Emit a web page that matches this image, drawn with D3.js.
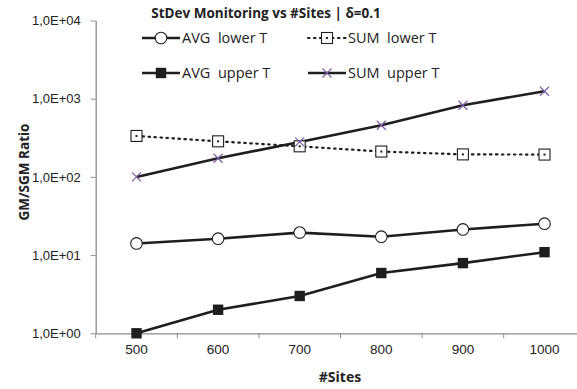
<!DOCTYPE html>
<html>
<head>
<meta charset="utf-8">
<script src="https://cdn.jsdelivr.net/npm/d3@7"></script>
<style>
    html, body { margin: 0; padding: 0; background: #fff; }
    svg { display: block; font-family: "Open Sans", "Liberation Sans", sans-serif; }
</style>
</head>
<body>
<svg id="chart" width="577" height="389"></svg>
<script>
    'use strict';

    var sites = ['500', '600', '700', '800', '900', '1000'];
    var avgLower = [14.1, 16.2, 19.4, 17.2, 21.3, 25.2];
    var sumLower = [334, 285, 246, 211, 194, 193];
    var avgUpper = [1, 2, 3, 5.9, 7.9, 10.9];
    var sumUpper = [100, 173, 280, 457, 824, 1245];
    var yTicks = [1, 10, 100, 1000, 10000];
    var yTickLabels = ['1,0E+00', '1,0E+01', '1,0E+02', '1,0E+03', '1,0E+04'];

    var LINE_COLOR = '#1e1e1e';
    var AXIS_COLOR = '#8c8c8c';
    var CROSS_COLOR = '#7b5ea7';

    var series = [
        { name: 'AVG  lower T', values: avgLower, marker: 'circle', dash: null },
        { name: 'SUM  lower T', values: sumLower, marker: 'openSquare', dash: '1.5,4.5' },
        { name: 'AVG  upper T', values: avgUpper, marker: 'square', dash: null },
        { name: 'SUM  upper T', values: sumUpper, marker: 'cross', dash: null }
    ];

    var svg = d3.select('#chart');
    var left = 95.7;
    var bottom = 333.3;

    var x = d3.scaleBand().domain(sites).range([left, left + 6 * 81.6]);
    var y = d3.scaleLog().domain([1, 10000]).range([bottom, 20.5]);

    function cx(i) {
        return x(sites[i]) + x.bandwidth() / 2;
    }

    function drawMarker(g, type, px, py) {
        if (type === 'circle') {
            g.append('circle').attr('cx', px).attr('cy', py).attr('r', 5.8)
                .attr('fill', '#fff').attr('stroke', LINE_COLOR).attr('stroke-width', 1.1);
        } else if (type === 'openSquare') {
            g.append('rect').attr('x', px - 5.5).attr('y', py - 5.5).attr('width', 11).attr('height', 11)
                .attr('fill', '#fff').attr('stroke', LINE_COLOR).attr('stroke-width', 1.1);
            g.append('rect').attr('x', px - 1).attr('y', py - 1).attr('width', 2).attr('height', 2)
                .attr('fill', LINE_COLOR);
        } else if (type === 'square') {
            g.append('rect').attr('x', px - 5.2).attr('y', py - 5.2).attr('width', 10.4).attr('height', 10.4)
                .attr('fill', LINE_COLOR);
        } else if (type === 'cross') {
            g.append('path')
                .attr('d', 'M' + (px - 4.5) + ',' + (py - 4.5) + 'L' + (px + 4.5) + ',' + (py + 4.5) +
                    'M' + (px - 4.5) + ',' + (py + 4.5) + 'L' + (px + 4.5) + ',' + (py - 4.5))
                .attr('stroke', CROSS_COLOR).attr('stroke-width', 1.2).attr('fill', 'none');
        }
    }

    // axes
    var xAxis = d3.axisBottom(x).tickSize(0).tickFormat(function (d) { return d; });
    var gx = svg.append('g').attr('transform', 'translate(0,' + bottom + ')').call(xAxis);
    gx.select('.domain').attr('stroke', AXIS_COLOR).attr('stroke-width', 1.3);
    gx.selectAll('text').attr('font-size', 13.5).attr('fill', '#222').attr('dy', '1.3em');
    svg.append('g').selectAll('line')
        .data(sites)
        .join('line')
        .attr('x1', function (d) { return x(d); })
        .attr('x2', function (d) { return x(d); })
        .attr('y1', bottom)
        .attr('y2', bottom + 5)
        .attr('stroke', AXIS_COLOR)
        .attr('stroke-width', 1);

    var yAxis = d3.axisLeft(y).tickValues(yTicks).tickSize(5).tickSizeOuter(0)
        .tickFormat(function (d, i) { return yTickLabels[i]; });
    var gy = svg.append('g').attr('transform', 'translate(' + left + ',0)').call(yAxis);
    gy.select('.domain').attr('stroke', AXIS_COLOR).attr('stroke-width', 1.3);
    gy.selectAll('.tick line').attr('stroke', AXIS_COLOR);
    gy.selectAll('text').attr('font-size', 13).attr('fill', '#222').attr('x', -15);

    // lines and markers
    var line = d3.line()
        .x(function (d, i) { return cx(i); })
        .y(function (d) { return y(d); });

    series.forEach(function (s) {
        svg.append('path')
            .datum(s.values)
            .attr('d', line)
            .attr('fill', 'none')
            .attr('stroke', LINE_COLOR)
            .attr('stroke-width', s.dash ? 2.2 : 2.6)
            .attr('stroke-linecap', s.dash ? 'round' : 'butt')
            .attr('stroke-dasharray', s.dash);
    });
    series.forEach(function (s) {
        var g = svg.append('g');
        s.values.forEach(function (v, i) {
            drawMarker(g, s.marker, cx(i), y(v));
        });
    });

    // legend
    var legendPos = [
        { x: 142, y: 38 },
        { x: 308, y: 38 },
        { x: 142, y: 73 },
        { x: 308, y: 73 }
    ];
    series.forEach(function (s, i) {
        var p = legendPos[i];
        var g = svg.append('g');
        g.append('line')
            .attr('x1', p.x).attr('x2', p.x + 38)
            .attr('y1', p.y).attr('y2', p.y)
            .attr('stroke', LINE_COLOR)
            .attr('stroke-width', s.dash ? 2.2 : 2.6)
            .attr('stroke-linecap', s.dash ? 'round' : 'butt')
            .attr('stroke-dasharray', s.dash);
        drawMarker(g, s.marker, p.x + 19, p.y);
        g.append('text')
            .attr('x', p.x + 40).attr('y', p.y)
            .attr('dy', '0.35em')
            .attr('font-size', 14.5)
            .attr('fill', '#222')
            .attr('xml:space', 'preserve')
            .style('white-space', 'pre')
            .text(s.name);
    });

    // titles
    svg.append('text')
        .attr('x', 266).attr('y', 18)
        .attr('text-anchor', 'middle')
        .attr('font-size', 13.5)
        .attr('font-weight', 'bold')
        .attr('fill', '#222')
        .text('StDev Monitoring vs #Sites | δ=0.1');

    svg.append('text')
        .attr('x', 340).attr('y', 382)
        .attr('text-anchor', 'middle')
        .attr('font-size', 14)
        .attr('font-weight', 'bold')
        .attr('fill', '#222')
        .text('#Sites');

    svg.append('text')
        .attr('transform', 'translate(29,172) rotate(-90)')
        .attr('text-anchor', 'middle')
        .attr('font-size', 13.5)
        .attr('font-weight', 'bold')
        .attr('fill', '#222')
        .text('GM/SGM Ratio');
</script>
</body>
</html>
